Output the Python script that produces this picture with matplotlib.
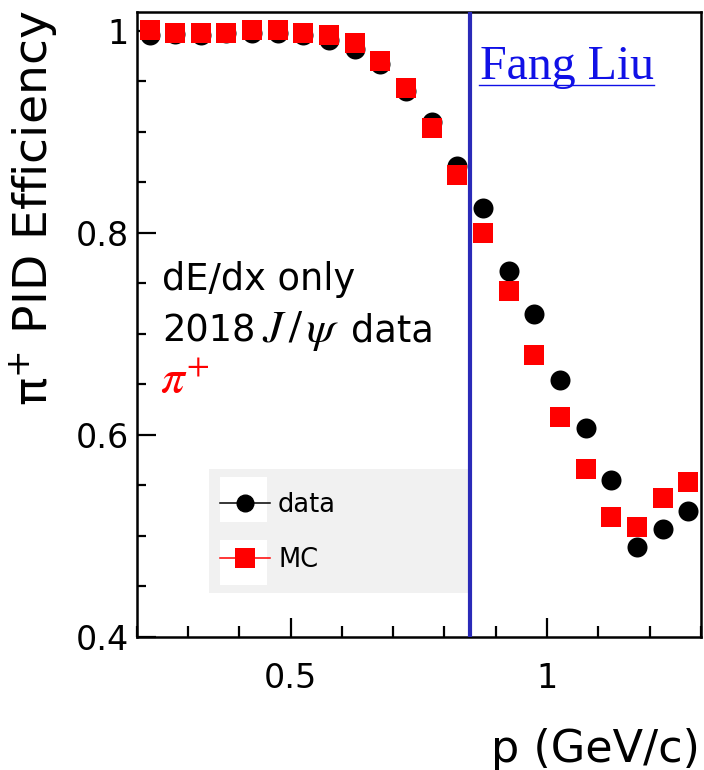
import matplotlib
matplotlib.use("Agg")
import matplotlib.pyplot as plt
from matplotlib.lines import Line2D
from matplotlib.patches import Rectangle
from matplotlib.ticker import MultipleLocator, FuncFormatter, FixedLocator

# ---- data ----
p_values = [0.225, 0.275, 0.325, 0.375, 0.425, 0.475, 0.525, 0.575, 0.625, 0.675, 0.725,
            0.775, 0.825, 0.875, 0.925, 0.975, 1.025, 1.075, 1.125, 1.175, 1.225, 1.275]
eff_data = [0.9955, 0.997, 0.9955, 0.998, 0.998, 0.998, 0.9955, 0.9905, 0.982, 0.967, 0.940,
            0.910, 0.866, 0.825, 0.762, 0.720, 0.654, 0.607, 0.555, 0.489, 0.507, 0.524]
eff_mc = [1.001, 0.998, 0.998, 0.998, 1.001, 1.001, 0.998, 0.9955, 0.988, 0.970, 0.943,
          0.904, 0.857, 0.800, 0.742, 0.679, 0.618, 0.566, 0.519, 0.509, 0.537, 0.553]
cut_p = 0.85
x_major = [0.5, 1.0]
y_major = [0.4, 0.6, 0.8, 1.0]
legend_labels = ["data", "MC"]

W, H = 704, 770
fig = plt.figure(figsize=(W / 100, H / 100), dpi=100)
L, R, T, B = 136.7, 701.0, 11.7, 636.7
ax = fig.add_axes([L / W, (H - B) / H, (R - L) / W, (B - T) / H])

ax.set_xlim(0.2, 1.3)
ax.set_ylim(0.4, 1.019)

# legend background
ax.add_patch(Rectangle((0.128, 0.070), 0.463, 0.198, transform=ax.transAxes,
                       facecolor="#f1f1f1", edgecolor="none", zorder=0))
for yb in (0.184, 0.083):
    ax.add_patch(Rectangle((0.1476, yb), 0.084, 0.071, transform=ax.transAxes,
                           facecolor="white", edgecolor="none", zorder=0.5))

ax.plot(p_values, eff_data, linestyle="none", marker="o", ms=14.4, color="black",
        markeredgewidth=0, zorder=3)
ax.plot(p_values, eff_mc, linestyle="none", marker="s", ms=15.0, color="#ff0000",
        markeredgewidth=0, zorder=4)
ax.axvline(cut_p, color="#2a2ab8", lw=3.0, zorder=5)

# ticks
ax.xaxis.set_major_locator(FixedLocator(x_major))
ax.xaxis.set_minor_locator(MultipleLocator(0.1))
ax.yaxis.set_major_locator(FixedLocator(y_major))
ax.yaxis.set_minor_locator(MultipleLocator(0.05))
fmt = FuncFormatter(lambda v, pos: "%g" % round(v, 3))
ax.xaxis.set_major_formatter(fmt)
ax.yaxis.set_major_formatter(fmt)
ax.tick_params(which="both", direction="in", top=False, right=False, width=1.6,
               labelsize=24, colors="black")
ax.tick_params(axis="x", which="major", length=13.5, pad=18.0)
ax.tick_params(axis="x", which="minor", length=8.2)
ax.tick_params(axis="y", which="major", length=13.5, pad=5.8)
ax.tick_params(axis="y", which="minor", length=6.8)
for s in ax.spines.values():
    s.set_linewidth(1.8)
    s.set_color("black")

# axis titles
fig.text(700 / W, 1 - 762 / H, "p (GeV/c)", ha="right", va="baseline", fontsize=32)
fig.text(34 / W, 1 - 10 / H, r"$\mathregular{\pi^{+}}$ PID Efficiency", rotation=90,
         ha="center", va="top", fontsize=34)

# annotations
def px(x, y):
    return ((x - L) / (R - L), (B - y) / (B - T))

ax.text(*px(162, 290), "dE/dx only", transform=ax.transAxes, fontsize=26.5,
        ha="left", va="baseline")
ax.text(*px(162, 341.7), "2018", transform=ax.transAxes, fontsize=26.5,
        ha="left", va="baseline")
ax.text(*px(262, 341.7), r"$J\,/\,\psi$", transform=ax.transAxes, fontsize=33,
        ha="left", va="baseline", math_fontfamily="stix")
ax.text(*px(351, 341.7), "data", transform=ax.transAxes, fontsize=26.5,
        ha="left", va="baseline")
ax.text(*px(160, 393), r"$\pi^{+}$", transform=ax.transAxes, fontsize=34,
        ha="left", va="baseline", color="#ff0000", math_fontfamily="stix")

# legend
handles = [Line2D([], [], color="black", marker="o", ms=12, lw=1.1),
           Line2D([], [], color="#ff0000", marker="s", ms=14, lw=1.1, markeredgewidth=0)]
ax.legend(handles, legend_labels, loc="center left", bbox_to_anchor=(0.1476, 0.1667),
          frameon=False, fontsize=18.5, handlelength=1.96, handletextpad=0.3,
          labelspacing=1.15, borderpad=0, borderaxespad=0)

# watermark text with underline
t = fig.text(480 / W, 1 - 79 / H, "Fang Liu", fontsize=34.5, family="Liberation Serif",
             color="#1010e6", ha="left", va="baseline")
fig.canvas.draw()
bb = t.get_window_extent()
uy = (H - 85) / H
fig.add_artist(Line2D([bb.x0 / W - 0.002, bb.x1 / W], [uy, uy], transform=fig.transFigure,
                      color="#1010e6", lw=1.0))

fig.savefig("out.png", dpi=100)
